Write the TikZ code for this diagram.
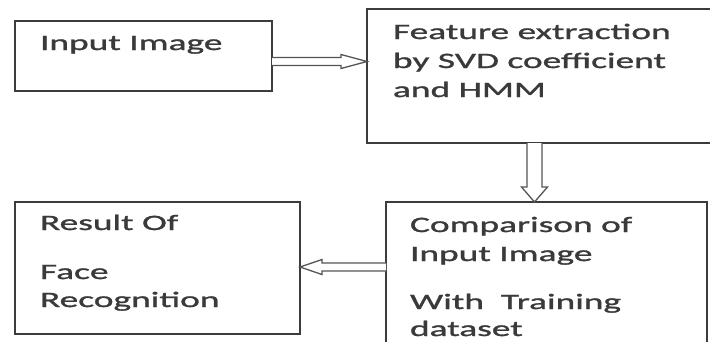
\documentclass[tikz,border=0pt]{standalone}
\usepackage{fontspec}
\setmainfont{Carlito}[FakeStretch=1.7,FakeBold=1.3]
\usetikzlibrary{calc}
\definecolor{txtgrey}{HTML}{3A3A3A}
\definecolor{linegrey}{HTML}{3C3C3C}
\definecolor{arrgrey}{HTML}{555555}
\tikzset{
  box/.style={draw=linegrey, line width=2pt, anchor=north west, inner sep=0pt, outer sep=0pt, fill=white},
  txt/.style={anchor=base west, inner sep=0pt, outer sep=0pt, text=txtgrey, font=\fontsize{22}{29}\selectfont},
  harrow/.style={draw=arrgrey, line width=1.3pt, line join=miter, fill=white}
}
\begin{document}
\begin{tikzpicture}[x=1pt,y=-1pt]
\useasboundingbox (0,0) rectangle (710,341);
\fill[white] (0,0) rectangle (710,341);
\clip (0,0) rectangle (710,341);
% boxes
\node[box, minimum width=257, minimum height=70] (b1) at (15,21) {};
\node[box, minimum width=353, minimum height=134] (b2) at (367,9) {};
\node[box, minimum width=321, minimum height=160] (b3) at (386,202) {};
\node[box, minimum width=285, minimum height=132] (b4) at (15,202) {};
% texts
\node[txt] (t1) at ($(b1.north west)+(25,29)$) {Input Image};
\node[txt] (t2a) at ($(b2.north west)+(26,30)$) {Feature extraction};
\node[txt] (t2b) at ($(b2.north west)+(26,59)$) {by SVD coefficient};
\node[txt] (t2c) at ($(b2.north west)+(26,88)$) {and HMM};
\node[txt] (t3a) at ($(b3.north west)+(24,30)$) {Comparison of};
\node[txt] (t3b) at ($(b3.north west)+(24,59)$) {Input Image};
\node[txt] (t3c) at ($(b3.north west)+(24,107)$) {With\ \ Training};
\node[txt] (t3d) at ($(b3.north west)+(24,134)$) {dataset};
\node[txt] (t4a) at ($(b4.north west)+(25,28)$) {Result Of};
\node[txt] (t4b) at ($(b4.north west)+(25,77)$) {Face};
\node[txt] (t4c) at ($(b4.north west)+(25,105)$) {Recognition};
% arrow 1: b1 -> b2
\coordinate (a1s) at ($(b1.east)+(0,5.5)$);
\coordinate (a1t) at (b2.west |- a1s);
\draw[harrow] ($(a1s)+(0,-4)$) -- ($(a1t)+(-26,-4)$) -- ($(a1t)+(-26,-7)$) -- (a1t)
  -- ($(a1t)+(-26,7)$) -- ($(a1t)+(-26,4)$) -- ($(a1s)+(0,4)$);
% arrow 2: b2 -> b3
\coordinate (a2s) at ($(b2.south west)+(167.5,0)$);
\coordinate (a2t) at (a2s |- b3.north);
\draw[harrow] ($(a2s)+(-7.5,0)$) -- ($(a2t)+(-7.5,-15)$) -- ($(a2t)+(-13,-15)$) -- (a2t)
  -- ($(a2t)+(13,-15)$) -- ($(a2t)+(7.5,-15)$) -- ($(a2s)+(7.5,0)$);
% arrow 3: b3 -> b4
\coordinate (a3s) at ($(b3.north west)+(0,65)$);
\coordinate (a3t) at (b4.east |- a3s);
\draw[harrow] ($(a3s)+(0,-4)$) -- ($(a3t)+(22,-4)$) -- ($(a3t)+(22,-7.5)$) -- (a3t)
  -- ($(a3t)+(22,7.5)$) -- ($(a3t)+(22,4)$) -- ($(a3s)+(0,4)$);
\end{tikzpicture}
\end{document}
